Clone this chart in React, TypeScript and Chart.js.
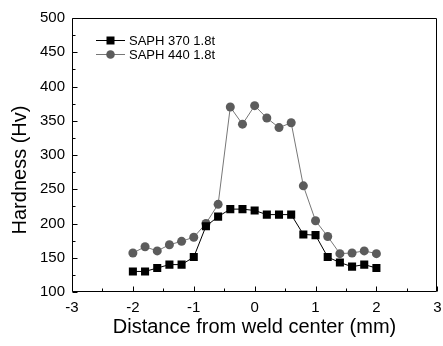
import React, { useEffect, useRef } from "react";
import { Chart, registerables } from "chart.js";

Chart.register(...registerables);

const xValues = [-2, -1.8, -1.6, -1.4, -1.2, -1.0, -0.8, -0.6, -0.4, -0.2, 0, 0.2, 0.4, 0.6, 0.8, 1.0, 1.2, 1.4, 1.6, 1.8, 2.0];
const saph370 = [130, 130, 135, 140, 140, 151, 196, 210, 221, 221, 219, 213, 213, 213, 184, 183, 151, 143, 137, 140, 135];
const saph440 = [157, 166, 160, 169, 174, 180, 200, 228, 370, 345, 372, 354, 340, 347, 255, 204, 181, 156, 157, 160, 156];
const seriesLabels = ["SAPH 370 1.8t", "SAPH 440 1.8t"];
const xTitle = "Distance from weld center (mm)";
const yTitle = "Hardness (Hv)";

const FONT = "'Liberation Sans', Arial, Helvetica, sans-serif";

const framePlugin = {
  id: "frameTicks",
  afterDraw(chart: any) {
    const ctx = chart.ctx;
    const xs = chart.scales.x;
    const ys = chart.scales.y;
    const L = Math.round(xs.getPixelForValue(-3)) + 0.5;
    const R = Math.round(xs.getPixelForValue(3)) - 0.5;
    const B = Math.round(ys.getPixelForValue(100)) - 0.5;
    const T = Math.round(ys.getPixelForValue(500)) + 0.5;
    ctx.save();
    ctx.strokeStyle = "#000000";
    ctx.lineWidth = 1;
    ctx.setLineDash([]);
    ctx.beginPath();
    ctx.moveTo(L, T);
    ctx.lineTo(R, T);
    ctx.lineTo(R, B);
    ctx.lineTo(L, B);
    ctx.closePath();
    ctx.stroke();
    ctx.beginPath();
    for (let v = -3; v <= 3.001; v += 0.5) {
      const px = Math.round(xs.getPixelForValue(v)) + 0.5;
      const len = Math.abs(v - Math.round(v)) < 1e-6 ? 5 : 3;
      ctx.moveTo(px, B);
      ctx.lineTo(px, B - len);
    }
    for (let v = 100; v <= 500; v += 25) {
      const py = Math.round(ys.getPixelForValue(v)) + 0.5;
      const len = v % 50 === 0 ? 5 : 3;
      ctx.moveTo(L, py);
      ctx.lineTo(L + len, py);
    }
    ctx.stroke();

    // axis titles
    ctx.fillStyle = "#000";
    ctx.font = `20px ${FONT}`;
    ctx.textAlign = "center";
    ctx.textBaseline = "middle";
    ctx.fillText(xTitle, (L + R) / 2, 327);
    ctx.save();
    ctx.translate(20, 170);
    ctx.rotate(-Math.PI / 2);
    ctx.fillText(yTitle, 0, 0);
    ctx.restore();

    // legend
    const rows = [40, 54];
    chart.data.datasets.forEach((ds: any, i: number) => {
      const y = rows[i];
      ctx.strokeStyle = ds.borderColor;
      ctx.lineWidth = 1;
      ctx.beginPath();
      ctx.moveTo(96, y + 0.5);
      ctx.lineTo(125, y + 0.5);
      ctx.stroke();
      ctx.fillStyle = ds.pointBackgroundColor;
      if (ds.pointStyle === "rect") {
        ctx.fillRect(106.5, y - 3.5, 8, 8);
      } else {
        ctx.beginPath();
        ctx.arc(110.5, y + 0.5, 4.3, 0, Math.PI * 2);
        ctx.fill();
      }
      ctx.fillStyle = "#000";
      ctx.font = `13px ${FONT}`;
      ctx.textAlign = "left";
      ctx.textBaseline = "middle";
      ctx.fillText(ds.label, 129, y + 1);
    });
    ctx.restore();
  },
};

export default function App() {
  const ref = useRef<HTMLCanvasElement>(null);
  useEffect(() => {
    if (!ref.current) return;
    const chart = new Chart(ref.current, {
      type: "line",
      data: {
        datasets: [
          {
            label: seriesLabels[0],
            data: xValues.map((x, i) => ({ x, y: saph370[i] })),
            borderColor: "#000000",
            borderWidth: 1,
            backgroundColor: "#000000",
            pointBackgroundColor: "#000000",
            pointBorderColor: "#000000",
            pointBorderWidth: 0,
            pointStyle: "rect",
            pointRadius: 5.7,
            tension: 0,
          },
          {
            label: seriesLabels[1],
            data: xValues.map((x, i) => ({ x, y: saph440[i] })),
            borderColor: "#777777",
            borderWidth: 1,
            backgroundColor: "#5c5c5c",
            pointBackgroundColor: "#5c5c5c",
            pointBorderColor: "#5c5c5c",
            pointBorderWidth: 0,
            pointStyle: "circle",
            pointRadius: 4.5,
            tension: 0,
          },
        ],
      },
      options: {
        responsive: false,
        animation: false,
        layout: { padding: { top: 18, right: 4, left: 0, bottom: 0 } },
        plugins: { legend: { display: false }, tooltip: { enabled: false } },
        scales: {
          x: {
            type: "linear",
            min: -3,
            max: 3,
            grid: { display: false, drawTicks: false, tickLength: 0 },
            border: { display: false },
            ticks: {
              stepSize: 1,
              padding: 7,
              color: "#000",
              font: { family: FONT, size: 15 },
              maxRotation: 0,
            },
            afterFit(scale: any) {
              scale.height = 54;
              scale.paddingLeft = 0;
              scale.paddingRight = 0;
            },
          },
          y: {
            type: "linear",
            min: 100,
            max: 500,
            grid: { display: false, drawTicks: false, tickLength: 0 },
            border: { display: false },
            ticks: {
              stepSize: 50,
              padding: 7,
              color: "#000",
              font: { family: FONT, size: 15 },
            },
            afterFit(scale: any) {
              scale.width = 72;
              scale.paddingTop = 0;
              scale.paddingBottom = 0;
            },
          },
        },
      },
      plugins: [framePlugin],
    } as any);
    return () => chart.destroy();
  }, []);
  return (
    <div style={{ position: "absolute", left: 0, top: 0, width: 443, height: 346, background: "#fff" }}>
      <canvas ref={ref} width={443} height={346} style={{ display: "block" }} />
    </div>
  );
}
